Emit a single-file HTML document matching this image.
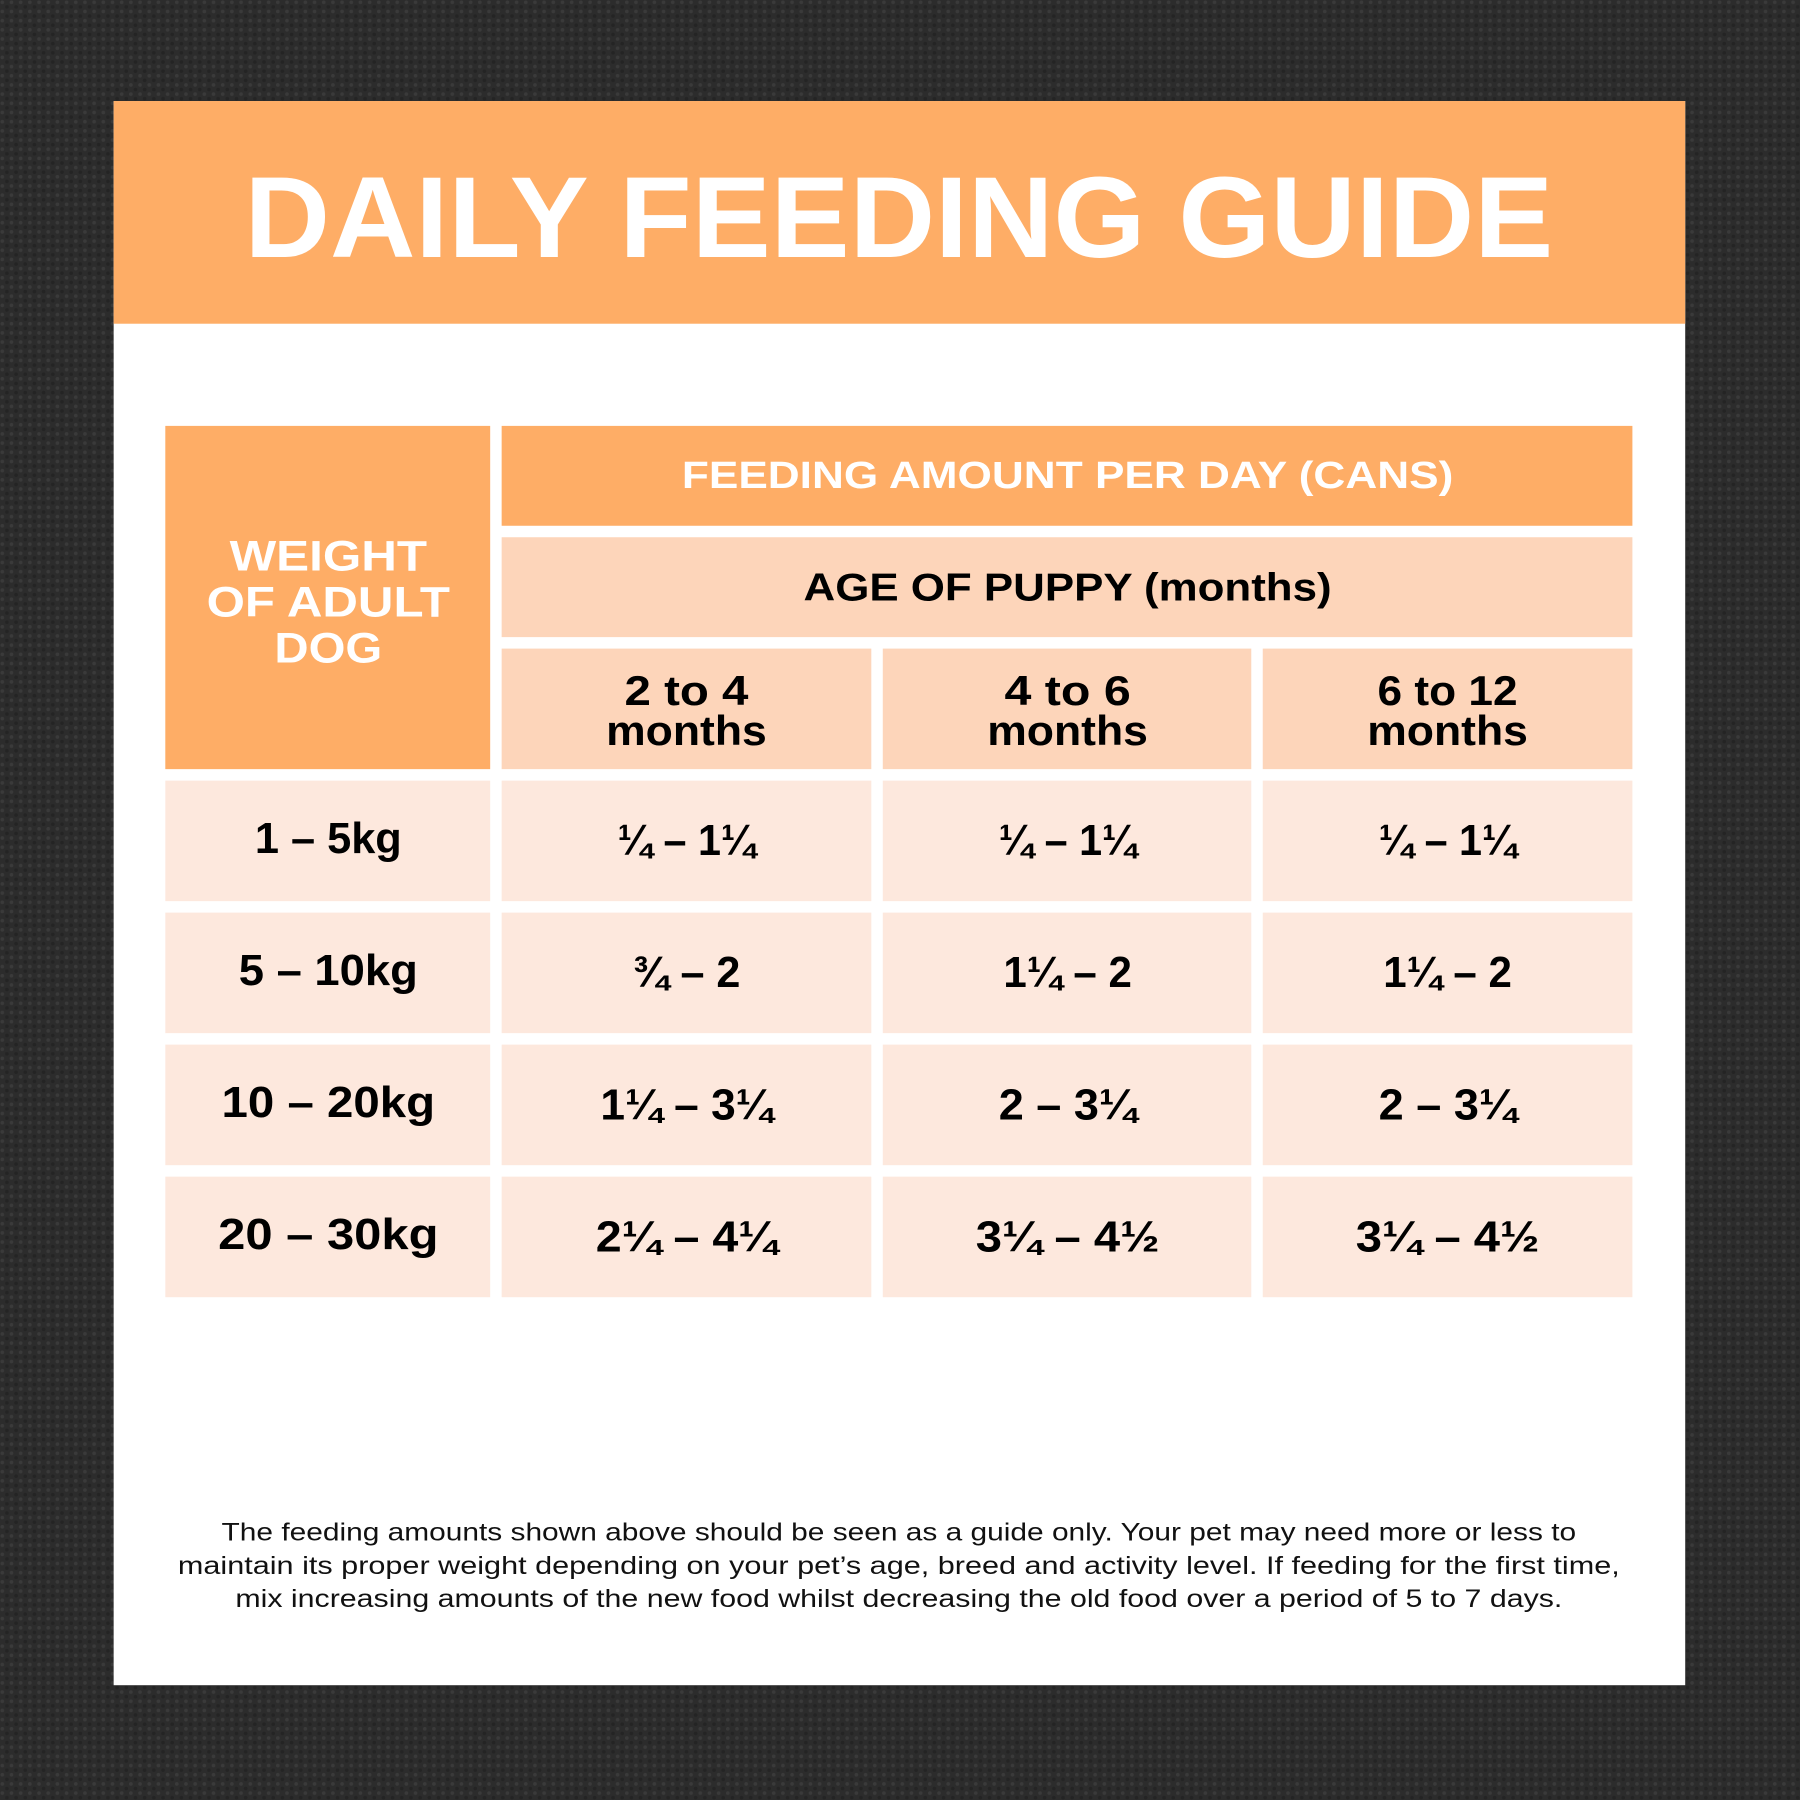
<!DOCTYPE html>
<html><head><meta charset="utf-8"><style>
html,body{margin:0;padding:0;background:#2b2b2b;}
svg{display:block}
text{font-family:"Liberation Sans",sans-serif;font-weight:bold;}
</style></head><body>
<svg width="1800" height="1800" viewBox="0 0 1568 1568" xmlns="http://www.w3.org/2000/svg">
<defs>
<pattern id="tex" width="8" height="8" patternUnits="userSpaceOnUse">
<rect width="8" height="8" fill="#2c2c2c"/>
<circle cx="2" cy="2" r="1.6" fill="#3a3a3a"/>
<circle cx="6" cy="6" r="1.6" fill="#242424"/>
</pattern>
</defs>
<rect width="1568" height="1568" fill="url(#tex)"/>
<rect x="99" y="88" width="1369" height="1380" fill="#ffffff"/>
<rect x="99" y="88" width="1369" height="194" fill="#FEAD66"/>
<text x="783" y="224" text-anchor="middle" font-size="100" fill="#fff" textLength="1140" lengthAdjust="spacingAndGlyphs">DAILY FEEDING GUIDE</text>

<rect x="144" y="371" width="283" height="299" fill="#FEAD66"/>
<g fill="#fff" font-size="37" text-anchor="middle">
<text x="286" y="497" textLength="172" lengthAdjust="spacingAndGlyphs">WEIGHT</text>
<text x="286" y="537" textLength="212" lengthAdjust="spacingAndGlyphs">OF ADULT</text>
<text x="286" y="577" textLength="94" lengthAdjust="spacingAndGlyphs">DOG</text>
</g>
<rect x="437" y="371" width="985" height="87" fill="#FEAD66"/>
<text x="930" y="425" text-anchor="middle" font-size="33" fill="#fff" textLength="672" lengthAdjust="spacingAndGlyphs">FEEDING AMOUNT PER DAY (CANS)</text>
<rect x="437" y="468" width="985" height="87" fill="#FDD5BA"/>
<text x="930" y="523" text-anchor="middle" font-size="34" fill="#000" textLength="460" lengthAdjust="spacingAndGlyphs">AGE OF PUPPY (months)</text>

<g fill="#FDD5BA">
<rect x="437" y="565" width="322" height="105"/>
<rect x="769" y="565" width="321" height="105"/>
<rect x="1100" y="565" width="322" height="105"/>
</g>
<g font-size="36" text-anchor="middle" fill="#000">
<text x="598" y="614" textLength="108" lengthAdjust="spacingAndGlyphs">2 to 4</text>
<text x="598" y="649" textLength="140" lengthAdjust="spacingAndGlyphs">months</text>
<text x="930" y="614" textLength="110" lengthAdjust="spacingAndGlyphs">4 to 6</text>
<text x="930" y="649" textLength="140" lengthAdjust="spacingAndGlyphs">months</text>
<text x="1261" y="614" textLength="122" lengthAdjust="spacingAndGlyphs">6 to 12</text>
<text x="1261" y="649" textLength="140" lengthAdjust="spacingAndGlyphs">months</text>
</g>

<g fill="#FDE8DD">
<rect x="144" y="680" width="283" height="105"/><rect x="437" y="680" width="322" height="105"/><rect x="769" y="680" width="321" height="105"/><rect x="1100" y="680" width="322" height="105"/>
<rect x="144" y="795" width="283" height="105"/><rect x="437" y="795" width="322" height="105"/><rect x="769" y="795" width="321" height="105"/><rect x="1100" y="795" width="322" height="105"/>
<rect x="144" y="910" width="283" height="105"/><rect x="437" y="910" width="322" height="105"/><rect x="769" y="910" width="321" height="105"/><rect x="1100" y="910" width="322" height="105"/>
<rect x="144" y="1025" width="283" height="105"/><rect x="437" y="1025" width="322" height="105"/><rect x="769" y="1025" width="321" height="105"/><rect x="1100" y="1025" width="322" height="105"/>
</g>
<g font-size="38" text-anchor="middle" fill="#000">
<text x="286" y="743" textLength="128" lengthAdjust="spacingAndGlyphs">1 – 5kg</text>
<text x="598" y="745" textLength="120" lengthAdjust="spacingAndGlyphs">¼ – 1¼</text>
<text x="930" y="745" textLength="120" lengthAdjust="spacingAndGlyphs">¼ – 1¼</text>
<text x="1261" y="745" textLength="120" lengthAdjust="spacingAndGlyphs">¼ – 1¼</text>

<text x="286" y="858" textLength="156" lengthAdjust="spacingAndGlyphs">5 – 10kg</text>
<text x="598" y="860" textLength="94" lengthAdjust="spacingAndGlyphs">¾ – 2</text>
<text x="930" y="860" textLength="112" lengthAdjust="spacingAndGlyphs">1¼ – 2</text>
<text x="1261" y="860" textLength="112" lengthAdjust="spacingAndGlyphs">1¼ – 2</text>

<text x="286" y="973" textLength="186" lengthAdjust="spacingAndGlyphs">10 – 20kg</text>
<text x="598" y="975" textLength="150" lengthAdjust="spacingAndGlyphs">1¼ – 3¼</text>
<text x="930" y="975" textLength="120" lengthAdjust="spacingAndGlyphs">2 – 3¼</text>
<text x="1261" y="975" textLength="120" lengthAdjust="spacingAndGlyphs">2 – 3¼</text>

<text x="286" y="1088" textLength="192" lengthAdjust="spacingAndGlyphs">20 – 30kg</text>
<text x="598" y="1090" textLength="158" lengthAdjust="spacingAndGlyphs">2¼ – 4¼</text>
<text x="930" y="1090" textLength="160" lengthAdjust="spacingAndGlyphs">3¼ – 4½</text>
<text x="1261" y="1090" textLength="160" lengthAdjust="spacingAndGlyphs">3¼ – 4½</text>
</g>

<g font-size="22" text-anchor="middle" fill="#111" style="font-weight:normal">
<text x="783" y="1342" style="font-weight:normal" textLength="1180" lengthAdjust="spacingAndGlyphs">The feeding amounts shown above should be seen as a guide only. Your pet may need more or less to</text>
<text x="783" y="1371" style="font-weight:normal" textLength="1256" lengthAdjust="spacingAndGlyphs">maintain its proper weight depending on your pet’s age, breed and activity level. If feeding for the first time,</text>
<text x="783" y="1400" style="font-weight:normal" textLength="1156" lengthAdjust="spacingAndGlyphs">mix increasing amounts of the new food whilst decreasing the old food over a period of 5 to 7 days.</text>
</g>
</svg>
</body></html>
